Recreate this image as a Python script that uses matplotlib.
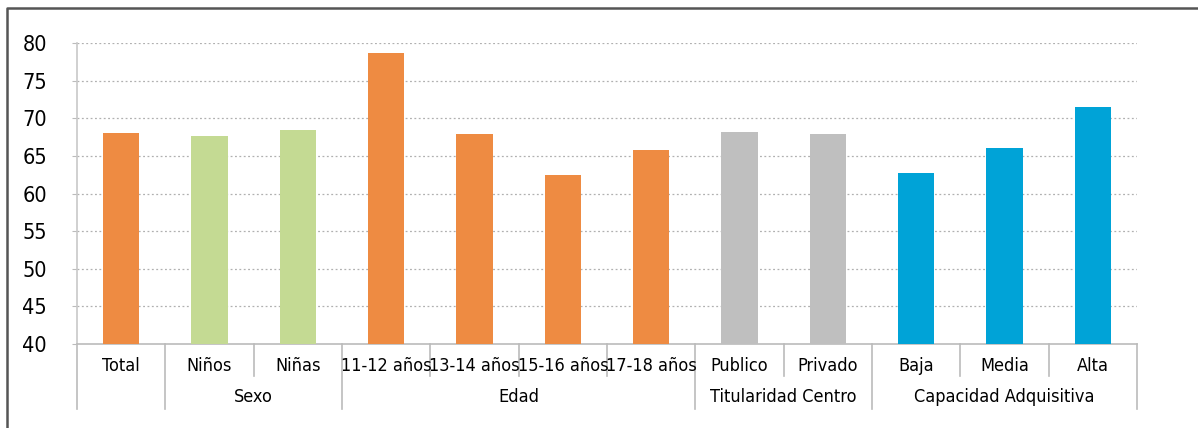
import matplotlib.pyplot as plt
from matplotlib.lines import Line2D

plt.rcParams['font.family'] = ['DejaVu Sans']
plt.rcParams['font.stretch'] = 'condensed'

categories = ["Total", "Niños", "Niñas", "11-12 años", "13-14 años", "15-16 años",
              "17-18 años", "Publico", "Privado", "Baja", "Media", "Alta"]
values = [68.1, 67.7, 68.4, 78.7, 67.9, 62.5, 65.8, 68.2, 67.9, 62.7, 66.1, 71.5]
colors = ["#EE8B42", "#C4DA93", "#C4DA93", "#EE8B42", "#EE8B42", "#EE8B42",
          "#EE8B42", "#BFBFBF", "#BFBFBF", "#00A3D7", "#00A3D7", "#00A3D7"]
# groups: (label, first index, last index)
groups = [("", 0, 0), ("Sexo", 1, 2), ("Edad", 3, 6),
          ("Titularidad Centro", 7, 8), ("Capacidad Adquisitiva", 9, 11)]

fig = plt.figure(figsize=(11.98, 4.28), dpi=100)
ax = fig.add_axes([0.0643, 0.196, 0.8848, 0.7035])

x = list(range(len(categories)))
ax.bar(x, values, width=0.41, color=colors, zorder=3)
ax.set_xlim(-0.5, len(categories) - 0.5)
ax.set_ylim(40, 80)
ax.set_yticks(range(40, 81, 5))
ax.tick_params(axis='y', length=3.6, color='#BBBBBB', labelsize=15.5, pad=18)
ax.set_xticks([])

for v in range(45, 81, 5):
    ax.axhline(v, color='#B0B0B0', linestyle=(0, (1.5, 2)), linewidth=0.9, zorder=1)

for s in ['top', 'right']:
    ax.spines[s].set_visible(False)
ax.spines['left'].set_color('#C8C8C8')
ax.spines['bottom'].set_color('#BBBBBB')
ax.spines['left'].set_linewidth(1.2)
ax.spines['bottom'].set_linewidth(1.2)

trans = ax.get_xaxis_transform()
for i, c in enumerate(categories):
    ax.text(i, -0.073, c, transform=trans, ha='center', va='center', fontsize=13)

# separators
group_edges = set()
for label, a, b in groups:
    group_edges.add(a - 0.5)
    group_edges.add(b + 0.5)
    ax.text((a + b) / 2, -0.176, label, transform=trans, ha='center', va='center', fontsize=13)
for i in range(len(categories) + 1):
    xe = i - 0.5
    y_end = -0.216 if xe in group_edges else -0.106
    ax.plot([xe, xe], [0, y_end], transform=trans, color='#BBBBBB', linewidth=1.2, clip_on=False)

# outer frame
fig.add_artist(Line2D([7 / 1198, 7 / 1198, 1.0], [0, 1 - 8 / 428, 1 - 8 / 428],
                      transform=fig.transFigure, color='#555555', linewidth=1.8))

fig.savefig("out.png", dpi=100)
